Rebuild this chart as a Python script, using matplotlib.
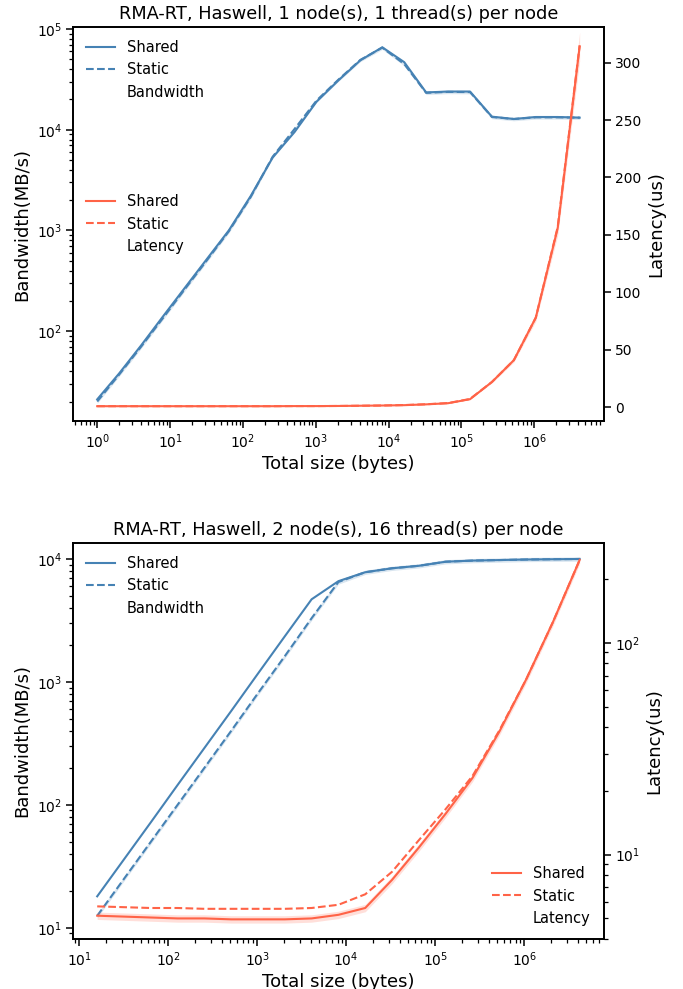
import numpy as np
import matplotlib
matplotlib.use('Agg')
import matplotlib.pyplot as plt
from matplotlib.lines import Line2D

BLUE = '#4682b4'
RED = '#ff6347'

# top panel: 1 node, 1 thread per node
sizes1 = [2 ** k for k in range(23)]
bw_shared1 = [21, 38, 72, 140, 270, 520, 1000, 2200, 5300, 9500, 19000, 31000, 49000,
              66000, 47000, 23500, 24000, 24000, 13500, 12800, 13400, 13400, 13200]
bw_static1 = [20, 37, 70, 135, 262, 505, 980, 2150, 5400, 10200, 19500, 31500, 49500,
              65500, 45000, 23300, 23800, 23700, 13400, 12800, 13300, 13300, 13200]
lat_shared1 = [0.9, 0.9, 0.9, 0.9, 0.9, 0.9, 0.9, 0.9, 0.9, 1.0, 1.0, 1.1, 1.3,
               1.5, 1.8, 2.5, 3.5, 7.0, 22, 41, 78, 156, 314]
lat_static1 = [0.9, 0.9, 0.9, 0.9, 0.9, 0.9, 0.9, 0.9, 0.9, 1.0, 1.0, 1.1, 1.3,
               1.5, 1.9, 2.6, 3.6, 7.2, 22, 41, 78, 157, 315]

# bottom panel: 2 nodes, 16 threads per node
sizes2 = [2 ** k for k in range(4, 23)]
bw_shared2 = [18, 36, 72, 145, 290, 580, 1170, 2350, 4700, 6600, 7800, 8400, 8800,
              9500, 9700, 9800, 9900, 9950, 10000]
bw_static2 = [12.5, 25, 50, 100, 200, 400, 810, 1620, 3300, 6500, 7800, 8400, 8800,
              9500, 9700, 9800, 9900, 9950, 10000]
lat_shared2 = [5.15, 5.1, 5.05, 5.0, 5.0, 4.95, 4.95, 4.95, 5.0, 5.2, 5.6, 7.6, 10.8,
               15.6, 23, 38, 67, 125, 246]
lat_static2 = [5.7, 5.65, 5.6, 5.6, 5.55, 5.55, 5.55, 5.55, 5.6, 5.8, 6.5, 8.3, 11.7,
               16.4, 23.5, 38.5, 67, 125, 246]


def band(ax, x, y, color):
    y = np.array(y, dtype=float)
    ax.fill_between(x, y * 0.96, y * 1.04, color=color, alpha=0.2, linewidth=0)


def legend_handles(color, name):
    return [Line2D([], [], color=color, lw=1.5, ls='-'),
            Line2D([], [], color=color, lw=1.5, ls='--'),
            Line2D([], [], color='none')], ['Shared', 'Static', name]


def panel(ax, title, sizes, bws, bwt, ls, lt, lat_log, lat_loc, bw_lim, lat_lim):
    ax.plot(sizes, bws, color=BLUE, lw=1.5)
    ax.plot(sizes, bwt, color=BLUE, lw=1.5, ls='--')
    band(ax, sizes, bwt, BLUE)
    ax.set_xscale('log')
    ax.set_yscale('log')
    ax.set_ylim(*bw_lim)
    ax.set_xlabel('Total size (bytes)', fontsize=13, labelpad=3)
    ax.set_ylabel('Bandwidth(MB/s)', fontsize=13)
    ax.set_title(title, fontsize=12.8)
    h, l = legend_handles(BLUE, 'Bandwidth')
    ax.legend(h, l, loc='upper left', frameon=False, fontsize=10.5)

    ax2 = ax.twinx()
    ax2.plot(sizes, ls, color=RED, lw=1.5)
    ax2.plot(sizes, lt, color=RED, lw=1.5, ls='--')
    band(ax2, sizes, ls, RED)
    if lat_log:
        ax2.set_yscale('log')
    ax2.set_ylim(*lat_lim)
    ax2.set_ylabel('Latency(us)', fontsize=13)
    h, l = legend_handles(RED, 'Latency')
    ax2.legend(h, l, loc=lat_loc, frameon=False, fontsize=10.5)
    for a in (ax, ax2):
        for s in a.spines.values():
            s.set_linewidth(1.25)
        a.tick_params(which='major', length=5, width=1.1, pad=3, labelsize=10)
        a.tick_params(which='minor', length=3, width=0.9)
    return ax2


fig = plt.figure(figsize=(6.83, 9.89), dpi=100)
ax_top = fig.add_axes([0.107, 0.5743, 0.777, 0.3984])
ax_bot = fig.add_axes([0.107, 0.0506, 0.777, 0.4004])

panel(ax_top, 'RMA-RT, Haswell, 1 node(s), 1 thread(s) per node',
      sizes1, bw_shared1, bw_static1, lat_shared1, lat_static1, False, 'center left',
      (12.8, 1.05e5), (-12, 331))
panel(ax_bot, 'RMA-RT, Haswell, 2 node(s), 16 thread(s) per node',
      sizes2, bw_shared2, bw_static2, lat_shared2, lat_static2, True, 'lower right',
      (8.1, 13500), (4.0, 296))

plt.savefig('out.png', dpi=100)
